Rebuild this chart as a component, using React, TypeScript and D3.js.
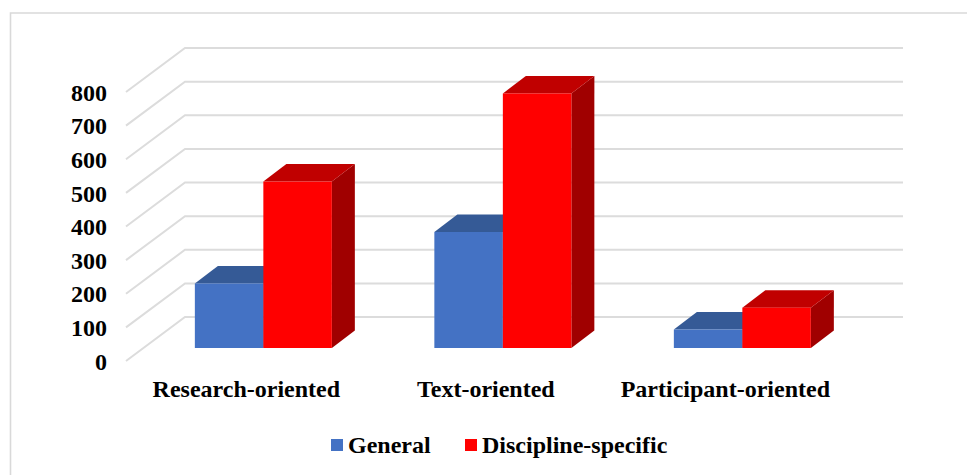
import { useEffect, useRef } from "react";
import * as d3 from "d3";

const CATEGORIES = ["Research-oriented", "Text-oriented", "Participant-oriented"];
const SERIES = ["General", "Discipline-specific"];
const GENERAL = [192, 345, 55];
const DISCIPLINE = [495, 757, 120];
const TICKS = [0, 100, 200, 300, 400, 500, 600, 700, 800];

const W = 967, H = 475;
const COLORS = { General: ["#4472c4", "#355a96", "#2f5190"], "Discipline-specific": ["#ff0000", "#c00000", "#a00000"] };

export default function App() {
  const svgRef = useRef<SVGSVGElement>(null);

  useEffect(() => {
    if (!svgRef.current) return;
    const svg = d3.select(svgRef.current);
    svg.selectAll("*").remove();

    const font = "'Liberation Serif', serif";

    // frame, only top and left show in the picture
    svg.append("path").attr("d", `M10.5,${H} V13 H${W}`)
      .attr("fill", "none").attr("stroke", "#d9d9d9").attr("stroke-width", 1.6);

    // back wall scale
    const y = d3.scaleLinear().domain([0, 800]).range([317, 48]);
    const wallDx = 59, wallDy = 44;
    const backL = 185, backR = 903;

    TICKS.forEach((t) => {
      svg.append("path")
        .attr("d", `M${backL - wallDx},${y(t) + wallDy} L${backL},${y(t)} H${backR}`)
        .attr("fill", "none").attr("stroke", "#dcdcdc").attr("stroke-width", 2);
      svg.append("text").text(t)
        .attr("x", 107).attr("y", y(t) + wallDy)
        .attr("dy", "0.36em")
        .attr("text-anchor", "end")
        .attr("font-family", font).attr("font-weight", 700).attr("font-size", 24)
        .attr("fill", "#000");
    });

    // bars sit in front plane, bottom at 348
    const x0 = d3.scaleBand().domain(CATEGORIES).range([143.6, 862.1]);
    const x1 = d3.scaleBand().domain(SERIES).range([x0.bandwidth() / 2 - 68.5, x0.bandwidth() / 2 + 68.5]);
    const barY = d3.scaleLinear().domain([0, 800]).range([348, 79]);
    const dx = 23, dy = 17.5;

    CATEGORIES.forEach((cat, i) => {
      const vals = [GENERAL[i], DISCIPLINE[i]];
      SERIES.forEach((s, j) => {
        const c = COLORS[s as keyof typeof COLORS];
        const l = x0(cat)! + x1(s)!, r = l + x1.bandwidth();
        const top = barY(vals[j]), bot = barY(0);
        const g = svg.append("g");
        g.append("polygon")
          .attr("points", `${r},${top} ${r + dx},${top - dy} ${r + dx},${bot - dy} ${r},${bot}`)
          .attr("fill", c[2]);
        g.append("polygon")
          .attr("points", `${l},${top} ${l + dx},${top - dy} ${r + dx},${top - dy} ${r},${top}`)
          .attr("fill", c[1]);
        g.append("rect")
          .attr("x", l).attr("y", top)
          .attr("width", r - l).attr("height", bot - top)
          .attr("fill", c[0]);
      });
      svg.append("text").text(cat)
        .attr("x", x0(cat)! + x0.bandwidth() / 2 - 17)
        .attr("y", 397)
        .attr("text-anchor", "middle")
        .attr("font-family", font).attr("font-weight", 700).attr("font-size", 24)
        .attr("fill", "#000");
    });

    // legend
    const legendX = [331, 465];
    const legendTextX = [348, 482];
    SERIES.forEach((s, j) => {
      svg.append("rect").attr("x", legendX[j]).attr("y", 439).attr("width", 12).attr("height", 12)
        .attr("fill", COLORS[s as keyof typeof COLORS][0]);
      svg.append("text").text(s)
        .attr("x", legendTextX[j]).attr("y", 453)
        .attr("font-family", font).attr("font-weight", 700).attr("font-size", 24)
        .attr("fill", "#000");
    });
  }, []);

  return (
    <svg ref={svgRef} width={W} height={H}
      style={{ position: "absolute", left: 0, top: 0, background: "#fff" }} />
  );
}
